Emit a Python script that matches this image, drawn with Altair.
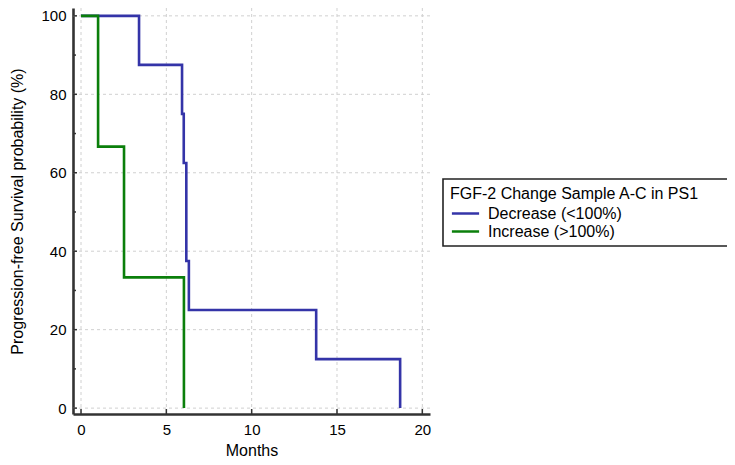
import altair as alt
import pandas as pd

# Kaplan-Meier step data
dec_months = [0, 3.4, 5.92, 6.02, 6.17, 6.32, 13.78, 18.7]
dec_surv = [100, 87.5, 75, 62.5, 37.5, 25, 12.5, 0]
inc_months = [0, 1.0, 2.52, 6.03]
inc_surv = [100, 66.67, 33.33, 0]

groups = ["Decrease (<100%)", "Increase (>100%)"]
colors = ["#3434A8", "#0B7F0B"]

x_ticks = [0, 5, 10, 15, 20]
y_ticks = [0, 20, 40, 60, 80, 100]
y_minor = [10, 30, 50, 70, 90]

FONT = "Arial"
W, H = 357, 406
XDOM = [-0.47, 20.45]
YDOM = [-1.5, 102]

rows = []
for i, (m, s) in enumerate(zip(dec_months, dec_surv)):
    rows.append({"group": groups[0], "month": m, "surv": s, "o": i})
for i, (m, s) in enumerate(zip(inc_months, inc_surv)):
    rows.append({"group": groups[1], "month": m, "surv": s, "o": i})
df = pd.DataFrame(rows)

xs = alt.Scale(domain=XDOM, nice=False, zero=False)
ys = alt.Scale(domain=YDOM, nice=False, zero=False)

xaxis = alt.Axis(values=x_ticks, grid=False, tickSize=0, labelPadding=8, titlePadding=5)
yaxis = alt.Axis(values=y_ticks, grid=False, tickSize=0, labelPadding=7, titlePadding=15)
XT = "Months"
YT = "Progression-free Survival probability (%)"

grid_style = dict(color="#d0d0d0", strokeDash=[3, 3], strokeWidth=1)

vgrid = alt.Chart(pd.DataFrame({"v": x_ticks})).mark_rule(**grid_style).encode(
    x=alt.X("v:Q", scale=xs, axis=xaxis, title=XT)
)
hgrid = alt.Chart(pd.DataFrame({"v": y_ticks})).mark_rule(**grid_style).encode(
    y=alt.Y("v:Q", scale=ys, axis=yaxis, title=YT)
)

ymaj_ticks = alt.Chart(pd.DataFrame({"v": y_ticks})).mark_rule(color="#333", strokeWidth=1.5).encode(
    y=alt.Y("v:Q", scale=ys, axis=yaxis, title=YT), x=alt.value(0), x2=alt.value(4)
)
ymin_ticks = alt.Chart(pd.DataFrame({"v": y_minor})).mark_rule(color="#333", strokeWidth=1.5).encode(
    y=alt.Y("v:Q", scale=ys, axis=yaxis, title=YT), x=alt.value(0), x2=alt.value(3)
)
xmaj_ticks = alt.Chart(pd.DataFrame({"v": x_ticks})).mark_rule(color="#333", strokeWidth=1.5).encode(
    x=alt.X("v:Q", scale=xs, axis=xaxis, title=XT), y=alt.value(H), y2=alt.value(H - 5)
)

# legend frame (decoration) sized like the reference's box
legend_box = alt.Chart(pd.DataFrame({"k": [0]})).mark_rect(
    fill=None, stroke="#222", strokeWidth=1.6
).encode(x=alt.value(370), x2=alt.value(655), y=alt.value(171), y2=alt.value(238))

lines = alt.Chart(df).mark_line(interpolate="step-after", strokeWidth=2.6).encode(
    x=alt.X("month:Q", scale=xs, title=XT, axis=xaxis),
    y=alt.Y("surv:Q", scale=ys, title=YT, axis=yaxis),
    color=alt.Color(
        "group:N",
        scale=alt.Scale(domain=groups, range=colors),
        legend=alt.Legend(
            title="FGF-2 Change Sample A-C in PS1",
            orient="none",
            legendX=370,
            legendY=171,
            symbolType="M-1.7,0H1.7",
            symbolSize=256,
            symbolStrokeWidth=2.5,
            symbolOffset=6,
            labelOffset=13,
            padding=7,
            rowPadding=0,
            titleFontSize=16,
            labelFontSize=16,
            titleLimit=400,
            labelLimit=300,
            titleFontWeight="normal",
            titleColor="black",
            labelColor="black",
            titleFont=FONT,
            labelFont=FONT,
            titlePadding=2,
        ),
    ),
    order="o:Q",
)

chart = (
    alt.layer(vgrid, hgrid, lines, ymaj_ticks, ymin_ticks, xmaj_ticks, legend_box)
    .properties(
        width=W,
        height=H,
        autosize=alt.AutoSizeParams(type="none"),
        padding={"left": 65, "top": 0, "right": 719 - 65 - W, "bottom": 449 - H},
    )
    .configure_view(stroke=None)
    .configure_axis(
        domainColor="#333",
        domainWidth=2.6,
        labelFont=FONT,
        titleFont=FONT,
        labelFontSize=15,
        titleFontSize=16,
        labelColor="black",
        titleColor="black",
        titleFontWeight="normal",
    )
)

chart.save("out.html", embed_options={"renderer": "svg", "actions": False})
